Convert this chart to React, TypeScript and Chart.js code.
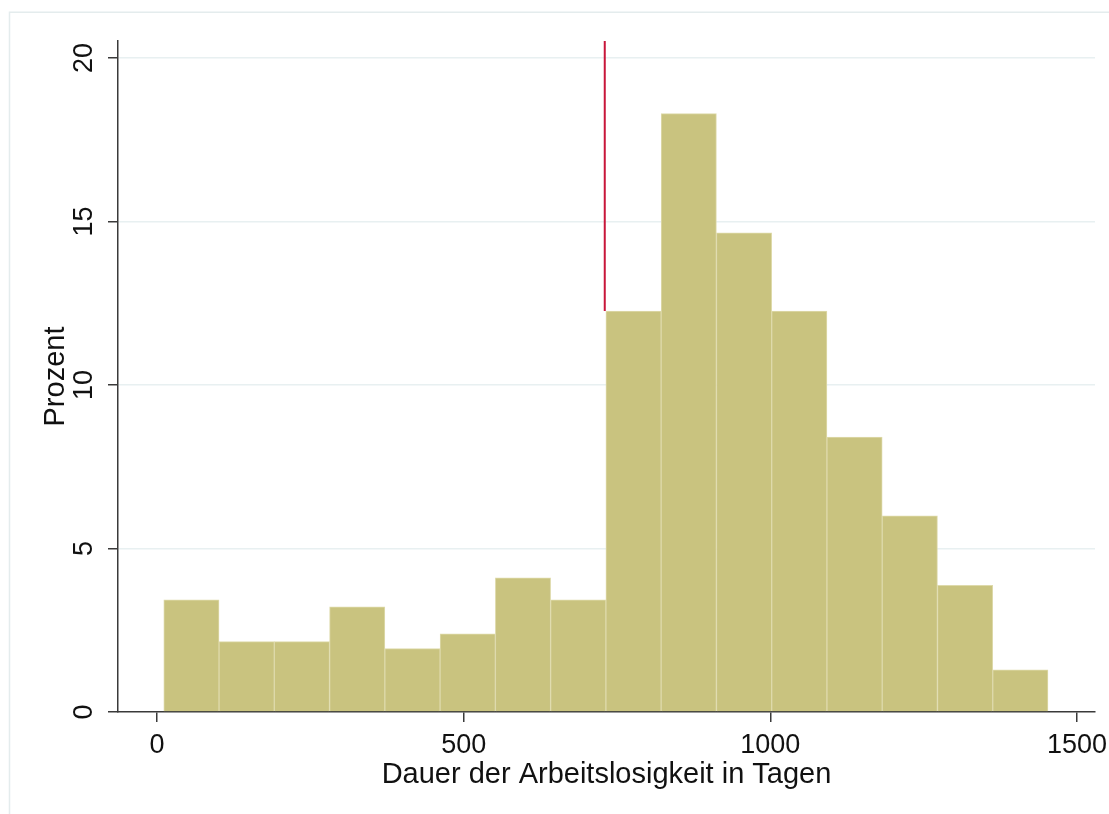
import React, { useEffect, useRef } from "react";
import { Chart, registerables } from "chart.js";

Chart.register(...registerables);

// Histogram bins (bin centres in days) and their percentages
const binCenters = [56.1, 146.2, 236.3, 326.4, 416.5, 506.6, 596.7, 686.8, 776.9, 867.0, 957.1, 1047.2, 1137.3, 1227.4, 1317.5, 1407.6];
const percentValues = [3.43, 2.15, 2.15, 3.22, 1.94, 2.39, 4.1, 3.43, 12.26, 18.3, 14.65, 12.26, 8.41, 6.0, 3.87, 1.29];

// Reference line at two years
const refLineX = 730;
const refLineTop = 20.52;
const refLineBottom = 12.26;

// Axes
const xTicks = [0, 500, 1000, 1500];
const yTicks = [0, 5, 10, 15, 20];
const xMin = -63.6;
const xMax = 1529.3;
const yMin = 0;
const yMax = 20.52;

const xTitle = "Dauer der Arbeitslosigkeit in Tagen";
const yTitle = "Prozent";

const FONT = "'Liberation Sans', Arial, sans-serif";

const framePlugin = {
  id: "outerFrame",
  beforeDraw(chart: any) {
    const ctx = chart.ctx;
    ctx.save();
    ctx.strokeStyle = "#E4ECED";
    ctx.lineWidth = 1.5;
    ctx.beginPath();
    ctx.moveTo(9.5, chart.height);
    ctx.lineTo(9.5, 12.3);
    ctx.lineTo(chart.width, 12.3);
    ctx.stroke();
    ctx.restore();
  },
};

export default function App() {
  const canvasRef = useRef<HTMLCanvasElement | null>(null);

  useEffect(() => {
    if (!canvasRef.current) return;
    const chart = new Chart(canvasRef.current, {
      type: "bar",
      data: {
        datasets: [
          {
            type: "line",
            data: [
              { x: refLineX, y: refLineTop },
              { x: refLineX, y: refLineBottom },
            ],
            borderColor: "#C8163A",
            borderWidth: 2,
            pointRadius: 0,
            fill: false,
            order: 0,
          } as any,
          {
            type: "bar",
            data: binCenters.map((x, i) => ({ x, y: percentValues[i] })),
            backgroundColor: "#C9C37F",
            borderColor: "#DEDAAB",
            borderWidth: 1,
            barPercentage: 1,
            categoryPercentage: 1,
            order: 1,
          } as any,
        ],
      },
      options: {
        animation: false,
        responsive: true,
        maintainAspectRatio: false,
        layout: { padding: { top: 41, right: 14, left: 0, bottom: 0 } },
        plugins: {
          legend: { display: false },
          tooltip: { enabled: false },
        },
        scales: {
          x: {
            type: "linear",
            offset: false,
            min: xMin,
            max: xMax,
            afterBuildTicks: (scale: any) => {
              scale.ticks = xTicks.map((v) => ({ value: v }));
            },
            afterFit: (scale: any) => {
              scale.height = 102;
              scale.paddingLeft = 0;
              scale.paddingRight = 0;
            },
            ticks: {
              font: { family: FONT, size: 27 },
              color: "#111",
              padding: 7,
              maxRotation: 0,
              autoSkip: false,
              callback: (v: any) => String(v),
            },
            grid: {
              offset: false,
              drawOnChartArea: false,
              drawTicks: true,
              tickLength: 10,
              tickColor: "#3a3a3a",
              lineWidth: 1.5,
            },
            border: { display: true, color: "#3a3a3a", width: 1.5 },
            title: {
              display: true,
              text: xTitle,
              font: { family: FONT, size: 29 },
              color: "#111",
              padding: { top: 0, bottom: 22 },
            },
          },
          y: {
            type: "linear",
            min: yMin,
            max: yMax,
            afterBuildTicks: (scale: any) => {
              scale.ticks = yTicks.map((v) => ({ value: v }));
            },
            afterFit: (scale: any) => {
              scale.width = 118;
              scale.paddingTop = 0;
              scale.paddingBottom = 0;
            },
            ticks: {
              font: { family: FONT, size: 27 },
              color: "#111",
              padding: 8,
              minRotation: 90,
              maxRotation: 90,
              crossAlign: "center",
              callback: (v: any) => String(v),
            },
            grid: {
              color: (ctx: any) => (ctx.tick && ctx.tick.value === 0 ? "rgba(0,0,0,0)" : "#E8F0F1"),
              lineWidth: 1.5,
              drawTicks: true,
              tickLength: 10,
              tickColor: "#3a3a3a",
            },
            border: { display: true, color: "#3a3a3a", width: 1.5 },
            title: {
              display: true,
              text: yTitle,
              font: { family: FONT, size: 29 },
              color: "#111",
              padding: { top: 39, bottom: 0 },
            },
          },
        },
      } as any,
      plugins: [framePlugin],
    });
    return () => chart.destroy();
  }, []);

  return (
    <div style={{ position: "absolute", left: 0, top: 0, width: 1109, height: 814, background: "#fff" }}>
      <canvas ref={canvasRef} />
    </div>
  );
}
